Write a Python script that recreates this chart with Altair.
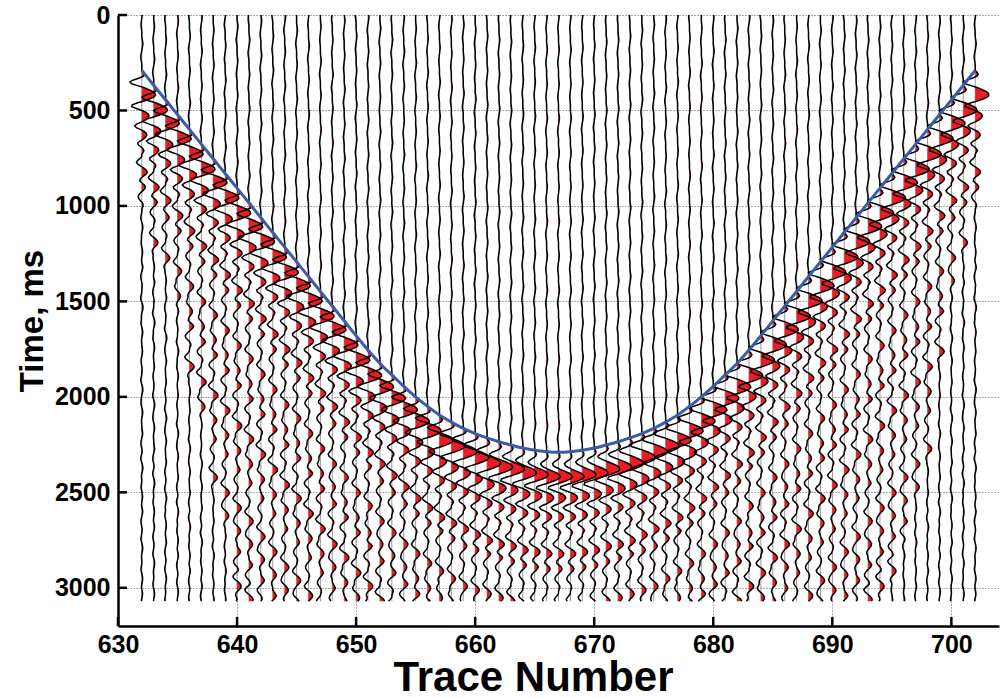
import numpy as np
import pandas as pd
import altair as alt

# ---------------- data ----------------
TRACES = list(range(632, 703))

# first-arrival time (blue curve), ms, one value per trace 632..702
FIRST_ARRIVAL_MS = [290, 368, 445, 522, 599, 676, 753, 830, 907, 984, 1062, 1139,
                    1216, 1293, 1370, 1448, 1525, 1602, 1680, 1755, 1825, 1885, 1945,
                    2000, 2050, 2095, 2132, 2165, 2192, 2215, 2235, 2252, 2268, 2280,
                    2287, 2290, 2287, 2280, 2268, 2252, 2235, 2215, 2192, 2165, 2132,
                    2095, 2050, 2000, 1945, 1885, 1825, 1755, 1680, 1602, 1525, 1448,
                    1370, 1293, 1216, 1139, 1062, 984, 907, 830, 753, 676, 599, 522,
                    445, 368, 290]

# time after which the strong coda dies out on each trace (ms)
CODA_END_MS = [1000, 1150, 1300, 1450, 1800, 2100, 2400, 2700] + [3070] * 55 + \
              [2900, 2700, 2500, 2200, 1800, 1400, 1200, 1000]

# strength of the onset part of the main wavelet on each trace
PRECURSOR_GAIN = [1.0] * 29 + [0.9, 0.8, 0.7, 0.6, 0.55, 0.5, 0.5, 0.5, 0.55, 0.6,
                               0.7, 0.8, 0.9] + [1.0] * 30

# main wavelet, amplitude in trace spacings, one sample every 10 ms after the first arrival
MAIN_WAVELET = [0.00, 0.15, 0.25, 0.15, -0.20, -0.70, -1.00, -0.85, -0.35, 0.15,
                0.55, 0.90, 1.10, 1.15, 1.00, 0.65, 0.20, -0.35, -0.80, -0.85,
                -0.45, 0.00, 0.35, 0.55, 0.60, 0.50, 0.30, 0.00, -0.40, -0.60,
                -0.45, -0.10, 0.20, 0.38, 0.42, 0.32, 0.12, -0.15, -0.35, -0.30,
                -0.08, 0.10, 0.18, 0.10, 0.00]
PRECURSOR_SAMPLES = 9

# later arrivals (coda): delay after first arrival (ms) and signed strength
CODA_DELAYS_MS = [460, 590, 750, 880, 1010, 1170, 1300, 1450, 1600, 1720, 1880,
                  2010, 2160, 2290, 2430, 2590, 2720]
CODA_AMPS = [0.45, -0.30, 0.35, 0.25, -0.35, 0.40, 0.30, -0.25, 0.35, 0.30, -0.30,
             0.35, 0.25, -0.30, 0.30, 0.28, -0.25]
CODA_TAIL_GAIN = 0.25
CODA_PULSE = [-0.30, -0.70, -1.00, -0.80, -0.30, 0.30, 0.75, 1.00, 0.90, 0.50,
              0.00, -0.30, -0.35, -0.15]

# weak, slow wiggles ahead of the first arrival
BG_DELAYS_MS = [-170, -340, -520, -700, -880, -1060, -1240, -1420, -1600, -1780,
                -1960, -2140, -2320]
BG_AMPS = [0.09, 0.07, 0.08, 0.07, 0.08, 0.07, 0.08, 0.06, 0.07, 0.08, 0.06,
           0.07, 0.06]
BG_PULSE = [0.2, 0.5, 0.8, 1.0, 0.8, 0.5, 0.2, -0.2, -0.5, -0.8, -1.0, -0.8, -0.5, -0.2]

SAMPLE_MS = 10
RECORD_MS = 3070

X_TICKS = [630, 640, 650, 660, 670, 680, 690, 700]
Y_TICKS = [0, 500, 1000, 1500, 2000, 2500, 3000]

# ---------------- build the wiggle traces ----------------
n = RECORD_MS // SAMPLE_MS + 1
times = np.arange(n) * SAMPLE_MS


def add(sig, start_ms, wavelet, amp):
    i0 = int(round(start_ms / SAMPLE_MS))
    for k, w in enumerate(wavelet):
        j = i0 + k
        if 0 <= j < n:
            sig[j] += amp * w


rows = []
for tr, t1, tend, pg in zip(TRACES, FIRST_ARRIVAL_MS, CODA_END_MS, PRECURSOR_GAIN):
    sig = np.zeros(n)
    wav = [w * (pg if k < PRECURSOR_SAMPLES else 1.0) for k, w in enumerate(MAIN_WAVELET)]
    add(sig, t1, wav, 1.0)
    for d, a in zip(CODA_DELAYS_MS, CODA_AMPS):
        start = t1 + d
        g = 1.0 if start < tend else CODA_TAIL_GAIN
        add(sig, start, CODA_PULSE, a * g)
    for d, a in zip(BG_DELAYS_MS, BG_AMPS):
        add(sig, t1 + d, BG_PULSE, a)
    for t, s in zip(times, sig):
        rows.append((tr, int(t), round(tr + s, 3), round(tr + max(s, 0.0), 3)))

df = pd.DataFrame(rows, columns=["trace", "t", "xw", "xf"])
base_df = pd.DataFrame({"trace": TRACES, "t0": 0, "t1": RECORD_MS})
blue_df = pd.DataFrame({"trace": TRACES, "arrival": FIRST_ARRIVAL_MS})
xt_df = pd.DataFrame({"v": X_TICKS})
yt_df = pd.DataFrame({"v": Y_TICKS})

W, H = 881, 611
FONT = "Liberation Sans"

x_scale = alt.Scale(domain=[630, 704], nice=False, zero=False)
y_scale = alt.Scale(domain=[0, 3200], reverse=True, nice=False, zero=False)

x_axis = alt.Axis(values=X_TICKS, format="d", title="Trace Number", grid=True,
                  gridDash=[1, 2], gridColor="#555", gridWidth=1, ticks=False,
                  labelFontSize=25, labelFontWeight="bold", labelFont=FONT,
                  labelColor="black", labelPadding=6, titleFontSize=42,
                  titleFontWeight="bold", titleFont=FONT, titleColor="black",
                  titleX=415, titleY=64, titleAlign="center", titleBaseline="alphabetic",
                  domainColor="black", domainWidth=2.5, labelFlush=False)
y_axis = alt.Axis(values=Y_TICKS, format="d", title="Time, ms", grid=True,
                  gridDash=[1, 2], gridColor="#555", gridWidth=1, ticks=False,
                  labelFontSize=25, labelFontWeight="bold", labelFont=FONT,
                  labelColor="black", labelPadding=8, titleFontSize=33,
                  titleFontWeight="bold", titleFont=FONT, titleColor="black",
                  titlePadding=5, domainColor="black", domainWidth=2.5,
                  labelFlush=False)

baselines = alt.Chart(base_df).mark_rule(color="#9a9a9a", strokeWidth=1).encode(
    x=alt.X("trace:Q", scale=x_scale, axis=x_axis),
    y=alt.Y("t0:Q", scale=y_scale, axis=y_axis),
    y2="t1:Q",
)

fills = alt.Chart(df).mark_area(orient="horizontal", color="#ec1c24", opacity=1).encode(
    y=alt.Y("t:Q", scale=y_scale, axis=y_axis),
    x=alt.X("xf:Q", scale=x_scale, axis=x_axis),
    x2="trace:Q",
    detail="trace:N",
)

wiggles = alt.Chart(df).mark_line(color="black", strokeWidth=1.5).encode(
    x=alt.X("xw:Q", scale=x_scale, axis=x_axis),
    y=alt.Y("t:Q", scale=y_scale, axis=y_axis),
    detail="trace:N",
    order="t:Q",
)

blue = alt.Chart(blue_df).mark_line(color="#3a5ca8", strokeWidth=3, interpolate="monotone").encode(
    x=alt.X("trace:Q", scale=x_scale, axis=x_axis),
    y=alt.Y("arrival:Q", scale=y_scale, axis=y_axis),
)

yticks = alt.Chart(yt_df).mark_rule(color="black", strokeWidth=2.5).encode(
    y=alt.Y("v:Q", scale=y_scale, axis=y_axis),
    x=alt.value(0),
    x2=alt.value(9),
)
xticks = alt.Chart(xt_df).mark_rule(color="black", strokeWidth=2.5).encode(
    x=alt.X("v:Q", scale=x_scale, axis=x_axis),
    y=alt.value(H),
    y2=alt.value(H - 9),
)

chart = alt.layer(baselines, fills, wiggles, blue, yticks, xticks).properties(
    width=W, height=H,
    autosize=alt.AutoSizeParams(type="none"),
    padding={"left": 118, "top": 15, "right": 3, "bottom": 72},
    background="white",
).configure_view(stroke=None)

chart.save("out.html", embed_options={"renderer": "svg", "actions": False})
